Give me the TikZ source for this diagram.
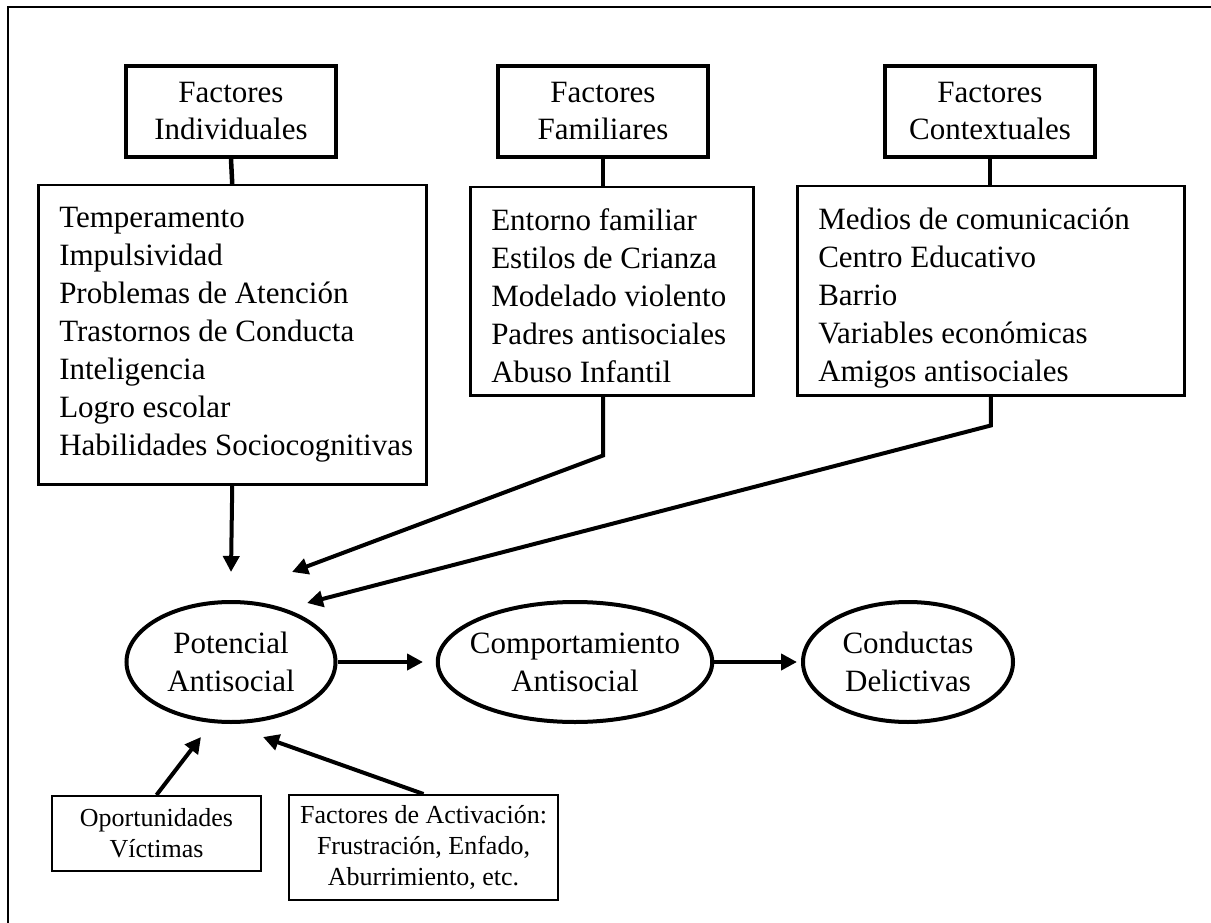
\documentclass[tikz,border=0pt]{standalone}
\usepackage{fontspec}
\setmainfont{Liberation Serif}
\usetikzlibrary{arrows.meta,shapes.geometric}

\begin{document}
\begin{tikzpicture}[x=1pt,y=-1pt,>={Triangle[length=16pt,width=16pt]},
    titulo/.style={draw,line width=4pt,minimum width=210pt,minimum height=91pt,inner sep=0pt,align=center,font=\fontsize{31}{37}\selectfont},
    lista/.style={draw,line width=2.5pt,anchor=north west,inner sep=0pt,font=\fontsize{31}{38}\selectfont},
    elipse/.style={draw,ellipse,line width=4pt,minimum height=120pt,inner sep=0pt,align=center,font=\fontsize{31}{38}\selectfont},
    caja/.style={draw,line width=2pt,inner sep=0pt,align=center,font=\fontsize{26}{31}\selectfont},
    tallo/.style={line width=4.5pt},
    flecha/.style={->,line width=4pt}]
\useasboundingbox (0,0) rectangle (1211,923);
\draw[line width=2pt](8,923)--(8,7)--(1211,7);

% factores
\node[titulo] (t1) at (231,111.5) {Factores\\Individuales};
\node[titulo] (t2) at (603,111.5) {Factores\\Familiares};
\node[titulo] (t3) at (990,111.5) {Factores\\Contextuales};

\node[lista] (l1) at (37,184) {\parbox[t][299pt][t]{388pt}{\leftskip=21pt\vspace*{22pt}%
    Temperamento\\Impulsividad\\Problemas de Atención\\Trastornos de Conducta\\Inteligencia\\Logro escolar\\Habilidades Sociocognitivas}};
\node[lista] (l2) at (469,186) {\parbox[t][208pt][t]{283pt}{\leftskip=21pt\vspace*{21pt}%
    Entorno familiar\\Estilos de Crianza\\Modelado violento\\Padres antisociales\\Abuso Infantil}};
\node[lista] (l3) at (796,185) {\parbox[t][209pt][t]{387pt}{\leftskip=21pt\vspace*{22pt}%
    Medios de comunicación\\Centro Educativo\\Barrio\\Variables económicas\\Amigos antisociales}};

\draw[tallo](t1.south)--(l1.north);
\draw[tallo](t2.south)--(t2.south|-l2.north);
\draw[tallo](t3.south)--(t3.south|-l3.north);

% conductas
\node[elipse,minimum width=209pt] (e1) at (231,662) {Potencial\\Antisocial};
\node[elipse,minimum width=274pt,inner xsep=-8pt] (e2) at (575,662) {Comportamiento\\Antisocial};
\node[elipse,minimum width=210pt] (e3) at (908,662) {Conductas\\Delictivas};

\coordinate (p1) at (231,572);
\coordinate (p2) at (292,572);
\coordinate (p3) at (307,603);
\coordinate (q1) at (423,662);
\coordinate (q2) at (797,662);
\coordinate (r1) at (201,737);
\coordinate (r2) at (263,737);

\draw[flecha](l1.south)--(p1);
\draw[flecha](t2.south|-l2.south)--++(0,59)--(p2);
\draw[flecha](l3.south)--++(0,29)--(p3);
\draw[flecha](e1.east)--(q1);
\draw[flecha](e2.east)--(q2);

% abajo
\node[caja,minimum width=209pt,minimum height=75pt] (o1) at (156.5,833.5) {Oportunidades\\Víctimas};
\node[caja,minimum width=269pt,minimum height=105pt] (a1) at (423.5,847.5) {Factores de Activación:\\Frustración, Enfado,\\Aburrimiento, etc.};

\draw[flecha](o1.north)--(r1);
\draw[flecha](a1.north)--(r2);
\end{tikzpicture}
\end{document}
